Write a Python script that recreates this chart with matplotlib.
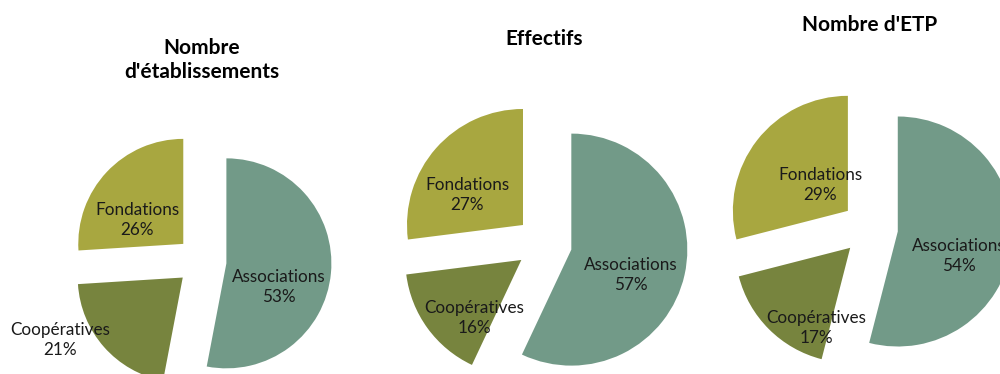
import numpy as np
import matplotlib
matplotlib.use("Agg")
import matplotlib.pyplot as plt

# ---- data ----
categories = ["Associations", "Coopératives", "Fondations"]
titles = ["Nombre\nd'établissements", "Effectifs", "Nombre d'ETP"]
etablissements = [53, 21, 26]
effectifs = [57, 16, 27]
etp = [54, 17, 29]
series = [etablissements, effectifs, etp]

# ---- style / layout ----
colors = ["#729a88", "#77843e", "#a8a740"]
W, H = 1000, 374
centers_img = [(201.5, 261), (544, 243.5), (870, 228)]   # pixel centers (y from top)
radii = [105, 116, 115]
explode_px = [25, 28, 28]
title_y_img = [60, 39, 25]
# label offsets relative to pie center, in units of radius (x right, y up)
label_offsets = [
    [(0.74, -0.25), (-1.35, -0.75), (-0.61, 0.39)],
    [(0.75, -0.27), (-0.60, -0.64), (-0.66, 0.42)],
    [(0.77, -0.24), (-0.47, -0.87), (-0.43, 0.375)],
]

plt.rcParams['font.family'] = ['Lato', 'DejaVu Sans']

fig = plt.figure(figsize=(W / 100, H / 100), dpi=100)
ax = fig.add_axes([0, 0, 1, 1])

for k, vals in enumerate(series):
    cx, cy_img = centers_img[k]
    cy = H - cy_img
    R = radii[k]
    ax.pie(vals, colors=colors, startangle=90, counterclock=False,
           center=(cx, cy), radius=R, explode=[explode_px[k]] * len(vals),
           wedgeprops=dict(linewidth=0))
    total = sum(vals)
    for j, (cat, v) in enumerate(zip(categories, vals)):
        dx, dy = label_offsets[k][j]
        ax.text(cx + dx * R, cy + dy * R, f"{cat}\n{round(100 * v / total)}%",
                ha="center", va="center", fontsize=12.3, color="#1a1a1a",
                linespacing=1.3)
    ax.text(cx, H - title_y_img[k], titles[k], ha="center", va="center",
            fontsize=15, fontweight="bold", color="black", linespacing=1.25)

ax.set_xlim(0, W)
ax.set_ylim(0, H)
ax.set_aspect("equal")
ax.axis("off")
fig.savefig("out.png", dpi=100, facecolor="white")
